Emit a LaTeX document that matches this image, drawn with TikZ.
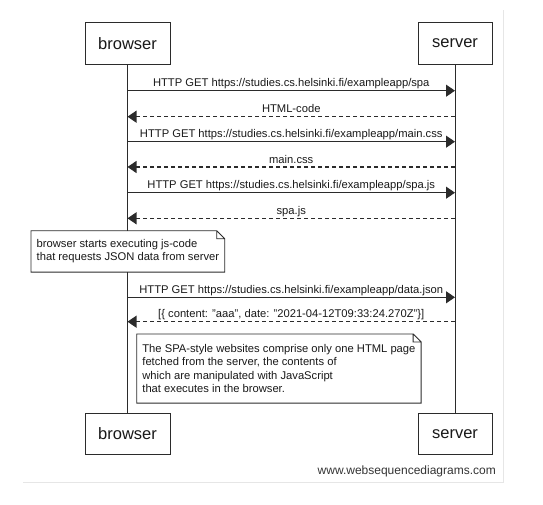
\documentclass[tikz,border=0pt]{standalone}
\usepackage{fontspec}
\setmainfont{Liberation Sans}
\usetikzlibrary{arrows.meta}
\definecolor{seqline}{HTML}{2B2B2B}
\definecolor{seqframe}{HTML}{E6E6E6}
\tikzset{
  actor/.style={draw=seqline, line width=0.9pt, fill=white, inner sep=0pt, font=\fontsize{16.5}{19}\selectfont, text=black!90},
  req/.style={draw=seqline, line width=1.1pt, -{Triangle[length=9pt,width=12pt]}},
  resp/.style={req, dash pattern=on 4pt off 3pt},
  msglabel/.style={above, inner sep=1pt, text height=8pt, text depth=2.4pt, font=\fontsize{11.2}{13.4}\selectfont, text=black!90},
  notebox/.style={anchor=north west, align=left, fill=white, inner xsep=5.5pt, inner ysep=0pt, font=\fontsize{11.2}{13.4}\selectfont, text=black!90}
}
\begin{document}
\begin{tikzpicture}[x=1pt,y=-1pt]
      \useasboundingbox (0,0) rectangle (543,505);
      \draw[seqframe] (503.3,10) -- (503.3,482.3) -- (22.7,482.3);
      %%%%%%%%%%%%%%%%%%%%%%%%%%%%%%%%%%%%%%%%%%%%%%%
      \node[actor, minimum width=85pt, minimum height=41.5pt] at (127.5,43.5) (bt) {browser};
      \node[actor, minimum width=74pt, minimum height=41.5pt] at (455,43.5)   (st) {server};
      \node[actor, minimum width=85pt, minimum height=41pt]   at (127.5,434)  (bb) {browser};
      \node[actor, minimum width=74pt, minimum height=41pt]   at (455,434)    (sb) {server};
      \draw[seqline, line width=0.9pt] (bt) -- (bb)
            (st) -- (sb);
      %%%%%%%%%%%%%%%%%%%%%%%%%%%%%%%%%%%%%%%%%%%%%%%
      \draw[req]  (bt.south |- 0,90.7)  -- (st.south |- 0,90.7)  node[msglabel, midway] (m1) {HTTP GET https://studies.cs.helsinki.fi/exampleapp/spa};
      \draw[resp] (st.south |- 0,116.7) -- (bt.south |- 0,116.7) node[msglabel, midway] (m2) {HTML-code};
      \draw[req]  (bt.south |- 0,141.7) -- (st.south |- 0,141.7) node[msglabel, midway] (m3) {HTTP GET https://studies.cs.helsinki.fi/exampleapp/main.css};
      \draw[resp] (st.south |- 0,167)   -- (bt.south |- 0,167)   node[msglabel, midway] (m4) {main.css};
      \draw[req]  (bt.south |- 0,192.7) -- (st.south |- 0,192.7) node[msglabel, midway] (m5) {HTTP GET https://studies.cs.helsinki.fi/exampleapp/spa.js};
      \draw[resp] (st.south |- 0,218.3) -- (bt.south |- 0,218.3) node[msglabel, midway] (m6) {spa.js};
      %%%%%%%%%%%%%%%%%%%%%%%%%%%%%%%%%%%%%%%%%%%%%%%
      \node[notebox, minimum width=191.7pt, minimum height=41pt] at (31,230.7) (n1) {browser starts executing js-code\\that requests JSON data from server};
      %%%%%%%%%%%%%%%%%%%%%%%%%%%%%%%%%%%%%%%%%%%%%%%
      \draw[req]  (bt.south |- 0,297.3) -- (st.south |- 0,297.3) node[msglabel, midway] (m7) {HTTP GET https://studies.cs.helsinki.fi/exampleapp/data.json};
      \draw[resp] (st.south |- 0,321.7) -- (bt.south |- 0,321.7) node[msglabel, midway] (m8) {[\{ content: "aaa", date: "2021-04-12T09:33:24.270Z"\}]};
      %%%%%%%%%%%%%%%%%%%%%%%%%%%%%%%%%%%%%%%%%%%%%%%
      \node[notebox, minimum width=283.3pt, minimum height=68.7pt] at (136.7,334) (n2) {The SPA-style websites comprise only one HTML page\\fetched from the server, the contents of\\which are manipulated with JavaScript\\that executes in the browser.};
      \foreach \n in {n1,n2}
        \draw[seqline, line width=0.9pt] (\n.north west) -- ([xshift=-8pt]\n.north east) -- ([yshift=-8pt]\n.north east) -- (\n.south east) -- (\n.south west) -- cycle
              ([xshift=-8pt]\n.north east) |- ([yshift=-8pt]\n.north east);
      %%%%%%%%%%%%%%%%%%%%%%%%%%%%%%%%%%%%%%%%%%%%%%%
      \node[anchor=east, inner sep=0pt, font=\fontsize{12}{14}\selectfont, text=black!80] at (496,471) (wsd) {www.websequencediagrams.com};
    \end{tikzpicture}
\end{document}
